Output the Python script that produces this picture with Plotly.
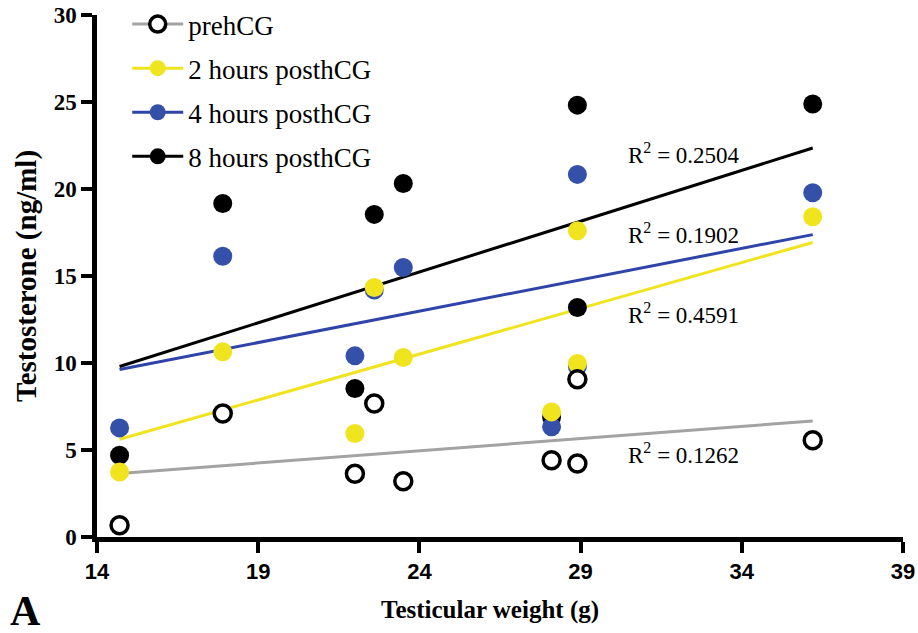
import numpy as np
import plotly.graph_objects as go

# Data
weight = [14.7, 17.9, 22.0, 22.6, 23.5, 28.1, 28.9, 28.9, 36.2]
pre_hcg = [0.67, 7.1, 3.64, 7.67, 3.2, 4.41, 4.22, 9.07, 5.56]
post_2h = [3.74, 10.64, 5.95, 14.34, 10.32, 7.19, 17.6, 9.97, 18.4]
post_4h = [6.27, 16.14, 10.41, 14.2, 15.49, 6.33, 20.84, 9.8, 19.78]
post_8h = [4.7, 19.17, 8.53, 18.54, 20.32, 6.9, 24.82, 13.19, 24.88]

series_names = ["prehCG", "2 hours posthCG", "4 hours posthCG", "8 hours posthCG"]
r2_labels = ["0.1262", "0.4591", "0.1902", "0.2504"]
r2_pos_y = [4.81, 12.86, 17.46, 22.06]
r2_pos_x = 30.42

x_ticks = [14, 19, 24, 29, 34, 39]
y_ticks = [0, 5, 10, 15, 20, 25, 30]

series_values = [pre_hcg, post_2h, post_4h, post_8h]
fill_colors = ["white", "#F0E41E", "#3550A8", "#000000"]
edge_colors = ["#000000", "#F0E41E", "#3550A8", "#000000"]
line_colors = ["#A3A3A3", "#F0E41E", "#2E44A8", "#000000"]

fig = go.Figure()
xa = np.array(weight)
xfit = np.array([min(weight), max(weight)])

# regression lines
for vals, lc in zip(series_values, line_colors):
    slope, icpt = np.polyfit(xa, np.array(vals), 1)
    fig.add_trace(go.Scatter(x=xfit, y=slope * xfit + icpt, mode="lines",
                             line=dict(color=lc, width=3), showlegend=False,
                             hoverinfo="skip"))

# points, drawn 8h first so prehCG on top
for i in [3, 2, 1, 0]:
    fig.add_trace(go.Scatter(
        x=weight, y=series_values[i], mode="markers", showlegend=False,
        marker=dict(size=19 if i else 17, color=fill_colors[i],
                    line=dict(color=edge_colors[i], width=3.5 if i == 0 else 0))))

# legend entries
for i in range(4):
    fig.add_trace(go.Scatter(
        x=[None], y=[None], mode="lines+markers", name=series_names[i],
        legendgroup=series_names[i],
        line=dict(color=line_colors[i], width=3),
        marker=dict(size=19 if i else 17, color=fill_colors[i],
                    line=dict(color=edge_colors[i], width=3.5 if i == 0 else 0))))

for lab, yy in zip(r2_labels, r2_pos_y):
    fig.add_annotation(x=r2_pos_x, y=yy, xref="x", yref="y", text="R<sup>2</sup> = " + lab,
                       showarrow=False, xanchor="left", yanchor="middle",
                       font=dict(family="Liberation Serif", size=23, color="black"))

fig.add_annotation(x=-0.11, y=-0.142, xref="paper", yref="paper", text="<b>A</b>",
                   showarrow=False, xanchor="left", yanchor="middle",
                   font=dict(family="Liberation Serif", size=42, color="black"))

fig.add_annotation(x=0.4876, y=-0.14, xref="paper", yref="paper",
                   text="<b>Testicular weight (g)</b>",
                   showarrow=False, xanchor="center", yanchor="middle",
                   font=dict(family="Liberation Serif", size=25, color="black"))

fig.update_layout(
    width=918, height=633,
    margin=dict(l=97, r=15, t=15, b=96, autoexpand=False),
    paper_bgcolor="white", plot_bgcolor="white",
    legend=dict(x=0.0375, y=1.015, xanchor="left", yanchor="top", yref="container",
                font=dict(family="Liberation Serif", size=27, color="black"),
                tracegroupgap=6, bgcolor="rgba(0,0,0,0)", itemwidth=51),
    xaxis=dict(range=[14, 39], tickvals=x_ticks, showgrid=False, zeroline=False,
               automargin=False, ticklabeloverflow="allow",
               showline=True, linecolor="black", linewidth=4.5,
               ticks="outside", ticklen=11, tickwidth=4, tickcolor="black",
               tickfont=dict(family="Liberation Sans", size=22, color="black", weight="bold")),
    yaxis=dict(range=[0, 30], tickvals=y_ticks, showgrid=False, zeroline=False,
               automargin=False, ticklabeloverflow="allow",
               showline=True, linecolor="black", linewidth=4.5,
               ticks="outside", ticklen=11, tickwidth=4, tickcolor="black",
               tickfont=dict(family="Liberation Serif", size=23, color="black", weight="bold"),
               title=dict(text="<b>Testosterone (ng/ml)</b>", standoff=10,
                          font=dict(family="Liberation Serif", size=29, color="black"))),
)

fig.write_html("out.html", config={"displayModeBar": False},
               post_script="document.body.style.margin='0';")
